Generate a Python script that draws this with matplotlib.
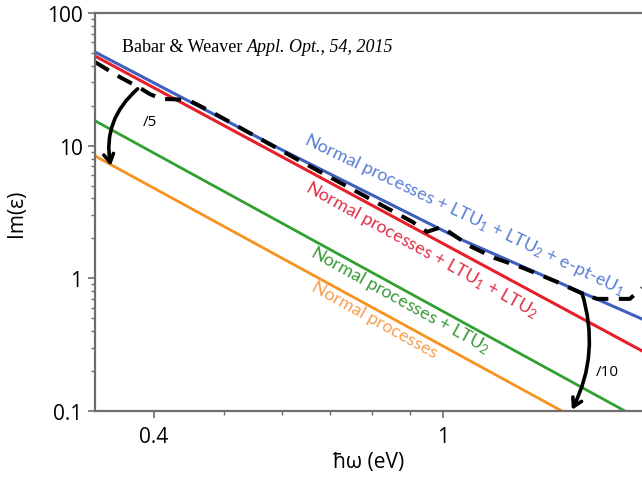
import matplotlib
matplotlib.use("Agg")
import matplotlib.pyplot as plt

plt.rcParams['font.family'] = ['Open Sans', 'DejaVu Sans']
plt.rcParams['mathtext.fontset'] = 'custom'
plt.rcParams['mathtext.rm'] = 'Lato'
plt.rcParams['mathtext.it'] = 'Lato:italic'

# photon energy (eV) and Im(eps)
blue_x = [0.332, 0.597, 1.056, 1.881]
blue_y = [50.8, 9.45, 1.98, 0.494]
red_x = [0.332, 1.881]
red_y = [47.4, 0.284]
green_x = [0.332, 1.782]
green_y = [15.4, 0.1]
orange_x = [0.332, 1.459]
orange_y = [8.36, 0.1]

# measured data (dashed)
meas_x = [0.332, 0.348, 0.361, 0.383, 0.395, 0.410, 0.434, 0.449, 0.478,
          0.636, 0.909, 0.951, 0.997, 1.090, 1.180, 1.289, 1.436, 1.560,
          1.631, 1.715, 1.810, 1.881]
meas_y = [42.7, 36.5, 32.4, 27.2, 24.5, 22.5, 22.3, 21.7, 18.25,
          7.67, 2.66, 2.24, 2.44, 1.75, 1.42, 1.20, 0.94, 0.763,
          0.70, 0.70, 0.70, 0.847]

xlim = (0.332, 1.881)
ylim = (0.1, 100)
x_major = [0.4, 1]
x_major_labels = ['0.4', '1']
x_minor = [0.5, 0.6, 0.7, 0.8, 0.9]
y_major = [0.1, 1, 10, 100]
y_major_labels = ['0.1', '1', '10', '100']
y_minor = [m * d for d in (0.1, 1, 10) for m in range(2, 10)]

c_blue, c_red, c_green, c_orange = '#3D5FC0', '#E5202B', '#30A030', '#F7921E'
t_blue, t_red, t_green, t_orange = '#5A7FD4', '#E0304A', '#3A9A3A', '#F8A050'
gray = '#6E6E6E'

fig = plt.figure(figsize=(6.42, 4.81), dpi=100)
ax = fig.add_axes([95 / 642, 1 - 412 / 481, 547 / 642, 398 / 481])
ax.set_xscale('log')
ax.set_yscale('log')

ax.plot(orange_x, orange_y, color=c_orange, lw=2.0)
ax.plot(green_x, green_y, color=c_green, lw=2.0)
ax.plot(red_x, red_y, color=c_red, lw=2.2)
ax.plot(blue_x, blue_y, color=c_blue, lw=2.2)
ax.plot(meas_x, meas_y, color='black', lw=2.9, dashes=(4, 2.6))

ax.set_xlim(*xlim)
ax.set_ylim(*ylim)
ax.set_xticks(x_major)
ax.set_xticklabels(x_major_labels)
ax.set_xticks(x_minor, minor=True)
ax.set_xticklabels([], minor=True)
ax.set_yticks(y_major)
ax.set_yticklabels(y_major_labels)
ax.set_yticks(y_minor, minor=True)
ax.set_yticklabels([], minor=True)

for s in ['left', 'top', 'bottom']:
    ax.spines[s].set_color(gray)
    ax.spines[s].set_linewidth(1.6)
ax.spines['right'].set_visible(False)
ax.tick_params(which='major', length=5, width=1.2, color=gray, labelsize=15, pad=6)
ax.tick_params(which='minor', length=3, width=1.0, color=gray)
ax.tick_params(axis='y', which='major', pad=4)

ax.set_ylabel('Im(ε)', fontsize=15)
ax.yaxis.set_label_coords(-0.144, 0.5)
ax.yaxis.label.set_verticalalignment('center')
ax.set_xlabel('ħω (eV)', fontsize=15)
ax.xaxis.set_label_coords(0.5, -0.128)
ax.xaxis.label.set_verticalalignment('center')

# line labels
lab = dict(fontfamily=['Lato', 'DejaVu Sans'], fontsize=13, ha='center', va='center',
           rotation_mode='anchor')
ax.text(1.073, 3.05, r'Normal processes + LTU$_1$ + LTU$_2$ + e-pt-eU$_1$',
        color=t_blue, rotation=-25.5, **lab)
ax.text(0.936, 1.67, r'Normal processes + LTU$_1$ + LTU$_2$',
        color=t_red, rotation=-29, **lab)
ax.text(0.873, 0.70, r'Normal processes + LTU$_2$',
        color=t_green, rotation=-29, **lab)
ax.text(0.806, 0.494, 'Normal processes',
        color=t_orange, rotation=-29, **lab)

# reference
t1 = ax.text(0.049, 0.915, 'Babar & Weaver ', transform=ax.transAxes,
             fontfamily='Liberation Serif', fontsize=13, va='center')
ax.annotate('Appl. Opt., 54, 2015', xy=(1, 0), xycoords=t1, va='bottom',
            fontfamily='Liberation Serif', fontstyle='italic', fontsize=13)

# scaling arrows
arr = dict(arrowstyle='->,head_length=0.6,head_width=0.35', lw=2.6, color='black',
           shrinkA=0, shrinkB=0)
ax.annotate('', xy=(0.349, 7.03), xytext=(0.380, 26.8),
            arrowprops=dict(connectionstyle='arc3,rad=0.28', **arr))
ax.annotate('', xy=(1.506, 0.102), xytext=(1.555, 0.776),
            arrowprops=dict(connectionstyle='arc3,rad=-0.2', **arr))
ax.text(0.395, 15.1, '/5', fontsize=11, ha='center', va='center')
ax.text(1.683, 0.200, '/10', fontsize=11, ha='center', va='center')

fig.savefig('out.png', dpi=100)
